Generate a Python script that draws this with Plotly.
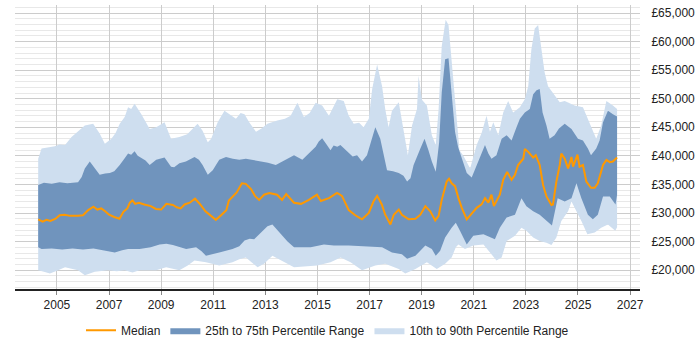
import plotly.graph_objects as go

# ---- data (decimal year, value in GBP) ----
median_x = [2004.28, 2004.45, 2004.6, 2004.75, 2004.95, 2005.1, 2005.3, 2005.5, 2005.8, 2006.0, 2006.2, 2006.4, 2006.55, 2006.7, 2006.85, 2007.0, 2007.2, 2007.4, 2007.55, 2007.7, 2007.8, 2007.9, 2008.0, 2008.15, 2008.35, 2008.6, 2008.8, 2009.0, 2009.2, 2009.45, 2009.6, 2009.75, 2009.9, 2010.1, 2010.3, 2010.5, 2010.7, 2010.9, 2011.1, 2011.3, 2011.5, 2011.6, 2011.75, 2011.9, 2012.1, 2012.25, 2012.45, 2012.6, 2012.76, 2012.95, 2013.15, 2013.45, 2013.64, 2013.8, 2014.1, 2014.37, 2014.67, 2014.98, 2015.13, 2015.44, 2015.75, 2015.94, 2016.2, 2016.45, 2016.71, 2016.97, 2017.15, 2017.29, 2017.47, 2017.6, 2017.8, 2017.93, 2018.12, 2018.24, 2018.5, 2018.76, 2018.95, 2019.14, 2019.33, 2019.52, 2019.65, 2019.77, 2019.96, 2020.05, 2020.15, 2020.28, 2020.41, 2020.54, 2020.73, 2020.92, 2021.11, 2021.3, 2021.43, 2021.56, 2021.68, 2021.77, 2022.0, 2022.13, 2022.28, 2022.45, 2022.58, 2022.7, 2022.9, 2022.96, 2023.09, 2023.28, 2023.38, 2023.53, 2023.66, 2023.79, 2023.98, 2024.04, 2024.17, 2024.3, 2024.36, 2024.49, 2024.62, 2024.75, 2024.81, 2024.98, 2025.06, 2025.19, 2025.32, 2025.5, 2025.64, 2025.76, 2025.96, 2026.09, 2026.22, 2026.34, 2026.5]
median_y = [28900, 28500, 28800, 28600, 29000, 29600, 29700, 29500, 29500, 29600, 30500, 31100, 30600, 30800, 30300, 29700, 29300, 29000, 30200, 30800, 31800, 32200, 31600, 31800, 31500, 31200, 30700, 30600, 31600, 31400, 31000, 30800, 31500, 31800, 32500, 31500, 30300, 29600, 28800, 29600, 30500, 32200, 33000, 33600, 35200, 35100, 34200, 33000, 32300, 33200, 33500, 33200, 32300, 33300, 31800, 31600, 32300, 33200, 32100, 32600, 33500, 33000, 30500, 29600, 28900, 30000, 32000, 33000, 31500, 29700, 28000, 29700, 30600, 29700, 28900, 29000, 29700, 31200, 30300, 28700, 29500, 32300, 35500, 36000, 35200, 34700, 32600, 30900, 28900, 30000, 30900, 31500, 32600, 31800, 33200, 31200, 33200, 35800, 37200, 35800, 36700, 38400, 39500, 41200, 40700, 39700, 40100, 38400, 34900, 32900, 31400, 31500, 35500, 38400, 40400, 39500, 37800, 39800, 38100, 40200, 38100, 38400, 35500, 34400, 34400, 35200, 38400, 39300, 38900, 39000, 39700]

p75_x = [2004.28, 2004.5, 2004.8, 2005.1, 2005.4, 2005.81, 2005.95, 2006.07, 2006.26, 2006.45, 2006.64, 2006.85, 2007.03, 2007.2, 2007.41, 2007.6, 2007.73, 2007.85, 2007.98, 2008.1, 2008.24, 2008.4, 2008.56, 2008.81, 2009.13, 2009.38, 2009.5, 2009.7, 2009.95, 2010.28, 2010.45, 2010.59, 2010.79, 2010.98, 2011.23, 2011.49, 2011.75, 2012.0, 2012.25, 2012.5, 2012.76, 2013.1, 2013.4, 2013.75, 2014.1, 2014.42, 2014.7, 2014.93, 2015.05, 2015.18, 2015.35, 2015.5, 2015.62, 2015.76, 2015.88, 2016.01, 2016.2, 2016.35, 2016.52, 2016.71, 2016.9, 2017.1, 2017.22, 2017.41, 2017.54, 2017.67, 2017.9, 2018.12, 2018.3, 2018.44, 2018.57, 2018.69, 2018.95, 2019.11, 2019.26, 2019.39, 2019.54, 2019.67, 2019.77, 2019.9, 2020.03, 2020.15, 2020.28, 2020.4, 2020.54, 2020.73, 2020.92, 2021.11, 2021.3, 2021.43, 2021.56, 2021.68, 2021.87, 2022.07, 2022.26, 2022.45, 2022.64, 2022.77, 2022.96, 2023.15, 2023.28, 2023.41, 2023.53, 2023.64, 2023.79, 2023.91, 2024.1, 2024.27, 2024.49, 2024.75, 2025.0, 2025.19, 2025.38, 2025.5, 2025.7, 2025.83, 2025.96, 2026.15, 2026.34, 2026.5]
p75_y = [34900, 35300, 35100, 35400, 35200, 35400, 36300, 37800, 39000, 37800, 36700, 36900, 37000, 37300, 38400, 39600, 40400, 40200, 40800, 40000, 39600, 39200, 38400, 39300, 39700, 38100, 38000, 38700, 39000, 39800, 39300, 38400, 36700, 37500, 39300, 39800, 39500, 39300, 39500, 39300, 39000, 38800, 38400, 39300, 40100, 39300, 40500, 41600, 42500, 43100, 42000, 41000, 41800, 41600, 41900, 41300, 40500, 39900, 40100, 39000, 40100, 43000, 45000, 43000, 40100, 37500, 37300, 37000, 36500, 35500, 36100, 38400, 41300, 43000, 41000, 39000, 37200, 42400, 51100, 56900, 57100, 50500, 44200, 41500, 39500, 37000, 36200, 38400, 40500, 41900, 40400, 39500, 40100, 43000, 43600, 42700, 45000, 46500, 47600, 48200, 50800, 51500, 51700, 47600, 45300, 43000, 43600, 44800, 45600, 44700, 43000, 42700, 41300, 40100, 41300, 42700, 45900, 47900, 47300, 46900]

p90_x = [2004.28, 2004.41, 2004.7, 2004.92, 2005.1, 2005.31, 2005.56, 2005.8, 2006.07, 2006.39, 2006.64, 2006.84, 2007.09, 2007.25, 2007.41, 2007.6, 2007.73, 2007.85, 2007.98, 2008.24, 2008.4, 2008.56, 2008.81, 2009.13, 2009.38, 2009.7, 2010.0, 2010.21, 2010.4, 2010.59, 2010.79, 2010.92, 2011.17, 2011.43, 2011.62, 2011.87, 2012.05, 2012.2, 2012.38, 2012.64, 2012.85, 2013.08, 2013.46, 2013.75, 2013.97, 2014.23, 2014.48, 2014.7, 2014.93, 2015.18, 2015.44, 2015.6, 2015.76, 2016.01, 2016.2, 2016.39, 2016.6, 2016.77, 2016.97, 2017.1, 2017.29, 2017.48, 2017.6, 2017.73, 2017.86, 2018.12, 2018.31, 2018.47, 2018.63, 2018.82, 2018.88, 2019.01, 2019.2, 2019.39, 2019.54, 2019.65, 2019.77, 2019.92, 2020.03, 2020.18, 2020.31, 2020.45, 2020.6, 2020.86, 2021.11, 2021.3, 2021.49, 2021.62, 2021.75, 2021.94, 2022.13, 2022.32, 2022.51, 2022.77, 2022.96, 2023.09, 2023.21, 2023.34, 2023.47, 2023.56, 2023.66, 2023.72, 2023.85, 2024.04, 2024.3, 2024.49, 2024.87, 2025.19, 2025.44, 2025.7, 2025.89, 2026.09, 2026.34, 2026.5]
p90_y = [39500, 41300, 41500, 41700, 42000, 41900, 43300, 44200, 45300, 45600, 43900, 42100, 43000, 44000, 45600, 46800, 48500, 48200, 49100, 47300, 46000, 44700, 45000, 45900, 43000, 43300, 43800, 44700, 45600, 44400, 42400, 43000, 45900, 47900, 47300, 46500, 47500, 47300, 45900, 44200, 44800, 45600, 46200, 46500, 47000, 49300, 46800, 47500, 49300, 48800, 47000, 48500, 49900, 49600, 47000, 45600, 45800, 45000, 46500, 51700, 56000, 52200, 48200, 45000, 47900, 49400, 44200, 40100, 45300, 48200, 54000, 49800, 48800, 43600, 41900, 48200, 59200, 63800, 62900, 55400, 48200, 41000, 40000, 37800, 41900, 44000, 47000, 44200, 45900, 43600, 47600, 49600, 47600, 48500, 49900, 52200, 58600, 62300, 62900, 59800, 56900, 54600, 52200, 51100, 49400, 49600, 48800, 48500, 45900, 43000, 45300, 49600, 48800, 48200]

p25_x = [2004.28, 2004.41, 2004.8, 2005.2, 2005.6, 2006.0, 2006.4, 2006.84, 2007.22, 2007.5, 2007.73, 2008.17, 2008.6, 2008.94, 2009.2, 2009.45, 2009.96, 2010.34, 2010.55, 2010.72, 2011.23, 2011.74, 2012.0, 2012.2, 2012.4, 2012.57, 2012.76, 2013.08, 2013.27, 2013.59, 2013.85, 2014.1, 2014.74, 2015.25, 2015.63, 2016.2, 2016.58, 2016.97, 2017.48, 2017.86, 2018.24, 2018.44, 2018.76, 2019.14, 2019.39, 2019.54, 2019.71, 2019.9, 2020.15, 2020.31, 2020.47, 2020.73, 2020.98, 2021.37, 2021.68, 2021.81, 2022.0, 2022.26, 2022.58, 2022.83, 2023.02, 2023.28, 2023.53, 2023.79, 2024.0, 2024.22, 2024.49, 2024.75, 2024.94, 2025.13, 2025.38, 2025.57, 2025.76, 2025.96, 2026.22, 2026.44, 2026.5]
p25_y = [24000, 23700, 23800, 23600, 23800, 23600, 23800, 23400, 23100, 23500, 23700, 23700, 24000, 24500, 24600, 24400, 23700, 24000, 23300, 22500, 23100, 23700, 24200, 25200, 25500, 25400, 26300, 27700, 28000, 26300, 25000, 24000, 24000, 24500, 24300, 24300, 24300, 24100, 24000, 23100, 22800, 22000, 22500, 24300, 23700, 22500, 23400, 25700, 27400, 28300, 26900, 24500, 26000, 26300, 25700, 25400, 27400, 29200, 29700, 32600, 31200, 30300, 29700, 28600, 27800, 32600, 32000, 32600, 35200, 32600, 29700, 28900, 29700, 32900, 32900, 31500, 33200]

p10_x = [2004.28, 2004.5, 2004.73, 2005.0, 2005.31, 2005.6, 2005.81, 2006.07, 2006.45, 2006.96, 2007.3, 2007.6, 2007.9, 2008.17, 2008.81, 2009.19, 2009.7, 2010.02, 2010.28, 2010.72, 2011.23, 2011.74, 2012.0, 2012.25, 2012.7, 2012.95, 2013.27, 2013.59, 2014.1, 2014.99, 2015.5, 2015.89, 2016.27, 2016.71, 2017.22, 2017.6, 2018.12, 2018.37, 2018.76, 2019.2, 2019.58, 2019.9, 2020.15, 2020.31, 2020.41, 2020.66, 2020.98, 2021.37, 2021.68, 2021.87, 2022.07, 2022.26, 2022.58, 2022.83, 2023.02, 2023.28, 2023.53, 2023.79, 2023.98, 2024.17, 2024.36, 2024.62, 2024.75, 2024.87, 2025.13, 2025.36, 2025.64, 2025.89, 2026.15, 2026.43, 2026.5]
p10_y = [20000, 19700, 19400, 19900, 20500, 20200, 20000, 19100, 19700, 20000, 19800, 20000, 19600, 20000, 20000, 20500, 20000, 20800, 21700, 21400, 20800, 21400, 21900, 22200, 20500, 21100, 22500, 21700, 20500, 20800, 21400, 22200, 21400, 20000, 20800, 21100, 20200, 19400, 20200, 21400, 20200, 21100, 22200, 24000, 24500, 23700, 24300, 24500, 22800, 21700, 22200, 25100, 26000, 27400, 26900, 25700, 25100, 24800, 24400, 25700, 28600, 30300, 32000, 30900, 28600, 26300, 26600, 27400, 28000, 26900, 27500]

year_ticks = [2005, 2007, 2009, 2011, 2013, 2015, 2017, 2019, 2021, 2023, 2025, 2027]
value_ticks = [20000, 25000, 30000, 35000, 40000, 45000, 50000, 55000, 60000, 65000]

# ---- colours ----
C_MED = "#FF9900"
C_IQR = "#7094BD"
C_OUT = "#CEDEEF"

fig = go.Figure()

fig.add_trace(go.Scatter(
    x=p90_x + p10_x[::-1], y=p90_y + p10_y[::-1],
    fill="toself", fillcolor=C_OUT, line=dict(width=0, color=C_OUT),
    mode="lines", name="10th to 90th Percentile Range", legendrank=3,
    hoverinfo="skip"))
fig.add_trace(go.Scatter(
    x=p75_x + p25_x[::-1], y=p75_y + p25_y[::-1],
    fill="toself", fillcolor=C_IQR, line=dict(width=0, color=C_IQR),
    mode="lines", name="25th to 75th Percentile Range", legendrank=2,
    hoverinfo="skip"))
fig.add_trace(go.Scatter(
    x=median_x, y=median_y, mode="lines",
    line=dict(color=C_MED, width=2), name="Median", legendrank=1))

fig.update_layout(
    width=700, height=350,
    margin=dict(l=15, r=57, t=5, b=58),
    paper_bgcolor="white", plot_bgcolor="white",
    font=dict(family="Liberation Sans, Arial, sans-serif", size=12, color="#222"),
    showlegend=True,
    legend=dict(orientation="h", x=0.5, xanchor="center", y=-0.145, yanchor="middle",
                font=dict(size=12, color="#222"), traceorder="normal",
                itemwidth=30),
)

fig.update_xaxes(
    range=[2003.39, 2027.38],
    tickmode="array", tickvals=year_ticks, ticktext=[str(v) for v in year_ticks],
    showgrid=True, gridcolor="#cccccc", gridwidth=1,
    showline=True, linecolor="#222", linewidth=1.5,
    ticks="outside", ticklen=4, tickcolor="#888",
    zeroline=False,
)
fig.update_yaxes(
    range=[16700, 66400], side="right",
    tickmode="array", tickvals=value_ticks,
    ticktext=["£{:,}".format(v) for v in value_ticks],
    showgrid=True, gridcolor="#cccccc", gridwidth=1,
    minor=dict(dtick=1000, tick0=0, showgrid=True, gridcolor="#e8e8e8", gridwidth=1),
    ticks="outside", ticklen=8, tickcolor="rgba(0,0,0,0)",
    showline=False, zeroline=False,
)

fig.write_html("out.html")
